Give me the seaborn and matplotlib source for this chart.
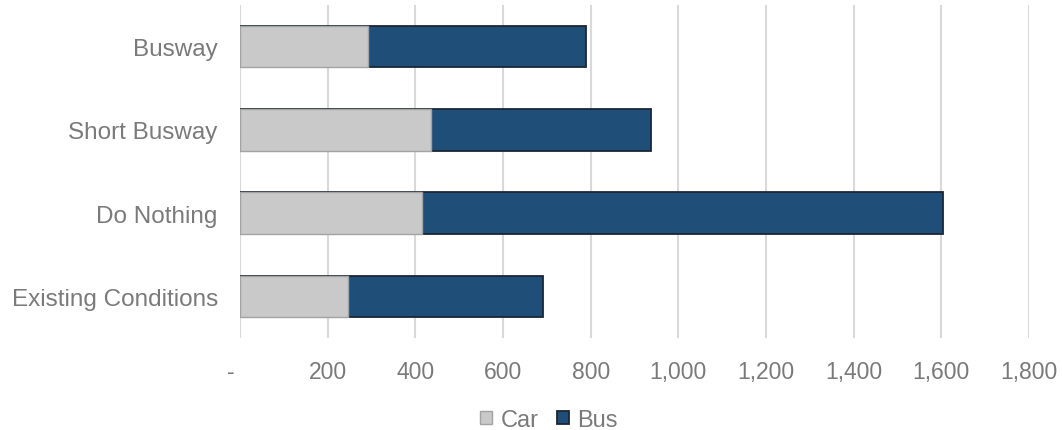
import matplotlib
matplotlib.use("Agg")
import matplotlib.pyplot as plt
from matplotlib.patches import Patch
from matplotlib.ticker import FuncFormatter
import pandas as pd
import seaborn as sns

# Daily person trips by mode for each scenario
scenarios = ["Busway", "Short Busway", "Do Nothing", "Existing Conditions"]
car_trips = [293, 436, 415, 246]
bus_trips = [496, 501, 1189, 446]
x_ticks = [0, 200, 400, 600, 800, 1000, 1200, 1400, 1600, 1800]

CAR_COLOR = "#c9c9c9"
CAR_EDGE = "#a3a3a3"
BUS_COLOR = "#1f4e79"
BUS_EDGE = "#1b2735"
TEXT_COLOR = "#7a7a7a"
GRID_COLOR = "#d9d9d9"

df = pd.DataFrame({"scenario": scenarios, "Car": car_trips, "Bus": bus_trips})
df["Total"] = df["Car"] + df["Bus"]

sns.set_theme(style="white")
plt.rcParams["font.family"] = ["Liberation Sans", "DejaVu Sans"]

fig = plt.figure(figsize=(10.62, 4.31), dpi=100)
ax = fig.add_axes([240 / 1062, 1 - 339 / 431, (1029 - 240) / 1062, 333 / 431])

# Stacked bars: full (car + bus) length in bus colour, car segment over it
sns.barplot(data=df, x="Total", y="scenario", order=scenarios, orient="h",
            color=BUS_COLOR, saturation=1, width=0.5,
            edgecolor=BUS_EDGE, linewidth=1.3, ax=ax, zorder=3)
sns.barplot(data=df, x="Car", y="scenario", order=scenarios, orient="h",
            color=CAR_COLOR, saturation=1, width=0.5,
            edgecolor=CAR_EDGE, linewidth=1.0, ax=ax, zorder=4)

ax.set_xlim(0, 1800)
ax.set_xticks(x_ticks)
ax.xaxis.set_major_formatter(
    FuncFormatter(lambda v, _: "-   " if v == 0 else f"{int(v):,}"))
ax.set_xlabel("")
ax.set_ylabel("")

ax.grid(axis="x", color=GRID_COLOR, linewidth=1.5, zorder=0)
ax.grid(axis="y", visible=False)
ax.set_axisbelow(True)
for s in ax.spines.values():
    s.set_visible(False)

ax.tick_params(axis="x", length=0, pad=16, labelsize=16.5, labelcolor=TEXT_COLOR)
ax.tick_params(axis="y", length=0, pad=16, labelsize=17.5, labelcolor=TEXT_COLOR)

handles = [Patch(facecolor=CAR_COLOR, edgecolor=CAR_EDGE, linewidth=1.0, label="Car"),
           Patch(facecolor=BUS_COLOR, edgecolor=BUS_EDGE, linewidth=1.3, label="Bus")]
fig.legend(handles=handles, loc="center", bbox_to_anchor=(0.517, 0.024),
           ncol=2, frameon=False, fontsize=17, labelcolor=TEXT_COLOR,
           handlelength=0.5, handleheight=0.5, handletextpad=0.35,
           columnspacing=0.8, borderpad=0, borderaxespad=0)

fig.savefig("out.png", dpi=100)
